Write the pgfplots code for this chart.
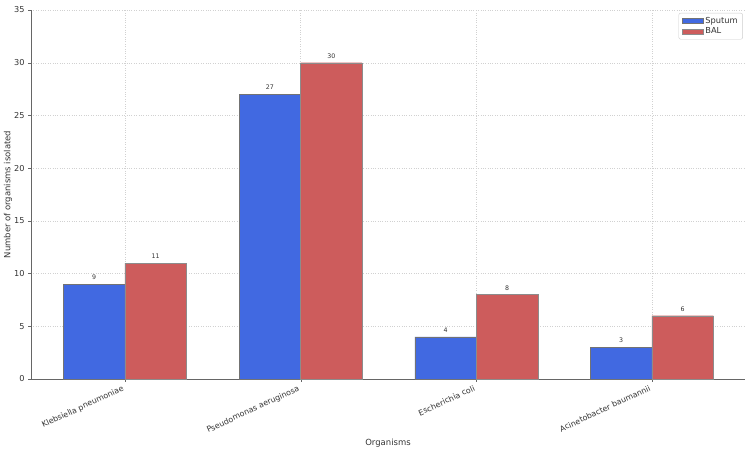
\documentclass[border=0pt]{standalone}
\usepackage{pgfplots}
\pgfplotsset{compat=1.18}
\usepackage{fontspec}
\setmainfont{DejaVu Sans}
\definecolor{sput}{HTML}{4169E1}
\definecolor{bal}{HTML}{CD5C5C}
\definecolor{txt}{HTML}{333333}
\begin{document}
\begin{tikzpicture}
\begin{axis}[
  name=ax,
  scale only axis,
  width=714bp, height=369bp,
  xmin=-0.535, xmax=3.53,
  ymin=0, ymax=35,
  ytick={0,5,...,35},
  xtick={0,1,2,3},
  xticklabels={Klebsiella pneumoniae,Pseudomonas aeruginosa,Escherichia coli,Acinetobacter baumannii},
  x tick label style={rotate=25, anchor=north east, inner sep=1pt, xshift=-3bp, font=\fontsize{7.9}{9}\selectfont, text=txt},
  y tick label style={font=\fontsize{8.2}{10}\selectfont, text=txt},
  /pgf/number format/assume math mode=true,
  axis x line*=bottom, axis y line*=left,
  axis line style={black!60, line width=0.7pt},
  tick style={black!60},
  tick align=outside,
  major tick length=3pt,
  grid=major,
  grid style={dotted, black!18, line width=0.35pt},
  xlabel={Organisms}, ylabel={Number of organisms isolated},
  label style={font=\fontsize{8.5}{10}\selectfont, text=txt},
  ylabel style={at={(rel axis cs:0,0.5)}, anchor=center, yshift=23bp},
  xlabel style={yshift=0bp},
  ybar=0pt, bar width=61.5bp,
  nodes near coords,
  every node near coord/.append style={font=\fontsize{6.3}{8}\selectfont, text=txt, yshift=1bp},
  legend style={at={(0.997,0.992)}, anchor=north east, draw=black!20, rounded corners=2pt,
    font=\fontsize{8.3}{10}\selectfont, text=txt, row sep=-1pt, inner xsep=3pt, inner ysep=2pt},
  legend image code/.code={\draw[#1, sharp corners] (0cm,-0.09cm) rectangle (0.75cm,0.09cm);},
  legend cell align=left,
]
\addplot[fill=sput, draw=black!55, line width=0.4pt] coordinates {(0,9) (1,27) (2,4) (3,3)};
\addplot[fill=bal, draw=black!45, line width=0.4pt] coordinates {(0,11) (1,30) (2,8) (3,6)};
\legend{Sputum,BAL}
\end{axis}
\path (ax.south west) ++(-31bp,-72bp);
\path (ax.north east) ++(5bp,10bp);
\end{tikzpicture}
\end{document}
